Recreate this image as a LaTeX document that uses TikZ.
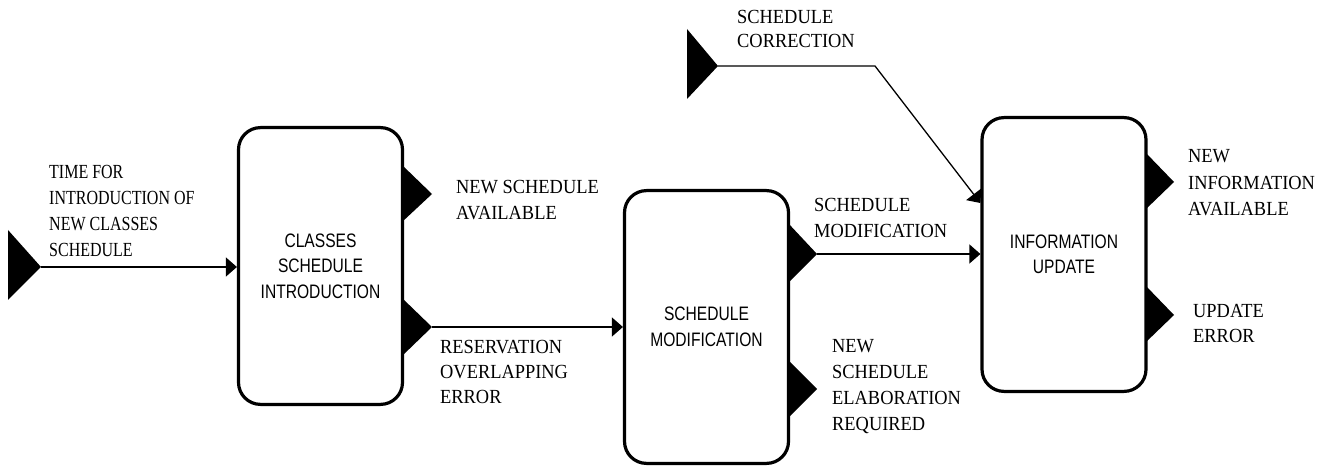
\documentclass[tikz,border=0pt]{standalone}
\usepackage{fontspec}
\usetikzlibrary{arrows.meta}
\newfontfamily\labelfont[FakeStretch=0.92]{Liberation Serif}
\newfontfamily\leftlabelfont[FakeStretch=0.80]{Liberation Serif}
\newfontfamily\boxfont[FakeStretch=0.80]{Liberation Sans}
\tikzset{
  procbox/.style={draw, line width=3.2pt, rounded corners=22pt, minimum width=164pt, inner sep=0pt,
    align=center, font=\boxfont\fontsize{19.5}{25.5}\selectfont},
  lbl/.style={anchor=base west, align=left, inner sep=0pt, font=\labelfont\fontsize{20}{26}\selectfont},
  flow/.style={line width=1.3pt, -{Triangle[length=11pt,width=19pt]}},
  pin/.style={fill=black}
}
\begin{document}
\begin{tikzpicture}[x=1pt,y=-1pt]
\useasboundingbox (0,0) rectangle (1331,470);

% process boxes
\node[procbox, minimum height=276.8pt] (b1) at (320.5,266) {CLASSES\\SCHEDULE\\INTRODUCTION};
\node[procbox, minimum height=272.8pt] (b2) at (706.5,327) {SCHEDULE\\MODIFICATION};
\node[procbox, minimum height=273.8pt] (b3) at (1064,254.5) {INFORMATION\\UPDATE};

% input triangles
\fill[pin] (8,230) -- (41,267) -- (8,300) -- cycle;
\coordinate (in1) at (41,267);
\fill[pin] (687,29) -- (718,66) -- (687,99) -- cycle;
\coordinate (corr) at (718,66);
\coordinate (bend) at (875,66);
\coordinate (k3) at (0,203);

% output triangles box 1
\fill[pin] (402,165) -- (432,194) -- (402,222) -- cycle;
\fill[pin] (402,298) -- (432,327) -- (402,356) -- cycle;
\coordinate (o12) at (432,327);
% output triangles box 2
\fill[pin] (788,223) -- (817,254) -- (788,283) -- cycle;
\coordinate (o21) at (817,254);
\fill[pin] (788,360) -- (817,389) -- (788,418) -- cycle;
% output triangles box 3
\fill[pin] (1145,152) -- (1174,182) -- (1145,210) -- cycle;
\fill[pin] (1145,285) -- (1174,315) -- (1145,343) -- cycle;

% connectors
\draw[flow] (in1) -- (b1.west |- in1);
\draw[flow] (o12) -- (b2.west |- o12);
\draw[flow] (o21) -- (b3.west |- o21);
\draw[flow] (corr) -- (bend) -- (b3.west |- k3);

% labels (anchored at the baseline of the last line)
\node[lbl, font=\leftlabelfont\fontsize{20}{26}\selectfont] (tl) at (49,257) {TIME FOR\\INTRODUCTION OF\\NEW CLASSES\\SCHEDULE};
\node[lbl] (l1) at (456,220) {NEW SCHEDULE\\AVAILABLE};
\node[lbl, font=\labelfont\fontsize{20}{25}\selectfont] (l2) at (440,403) {RESERVATION\\OVERLAPPING\\ERROR};
\node[lbl] (l3) at (814,238) {SCHEDULE\\MODIFICATION};
\node[lbl, font=\labelfont\fontsize{20}{25.7}\selectfont] (l4) at (832,430) {NEW\\SCHEDULE\\ELABORATION\\REQUIRED};
\node[lbl, font=\labelfont\fontsize{20}{24}\selectfont] (l5) at (737,48) {SCHEDULE\\CORRECTION};
\node[lbl, font=\labelfont\fontsize{20}{26.5}\selectfont] (l6) at (1188,216) {NEW\\INFORMATION\\AVAILABLE};
\node[lbl, font=\labelfont\fontsize{20}{25}\selectfont] (l7) at (1193,343) {UPDATE\\ERROR};
\end{tikzpicture}
\end{document}
